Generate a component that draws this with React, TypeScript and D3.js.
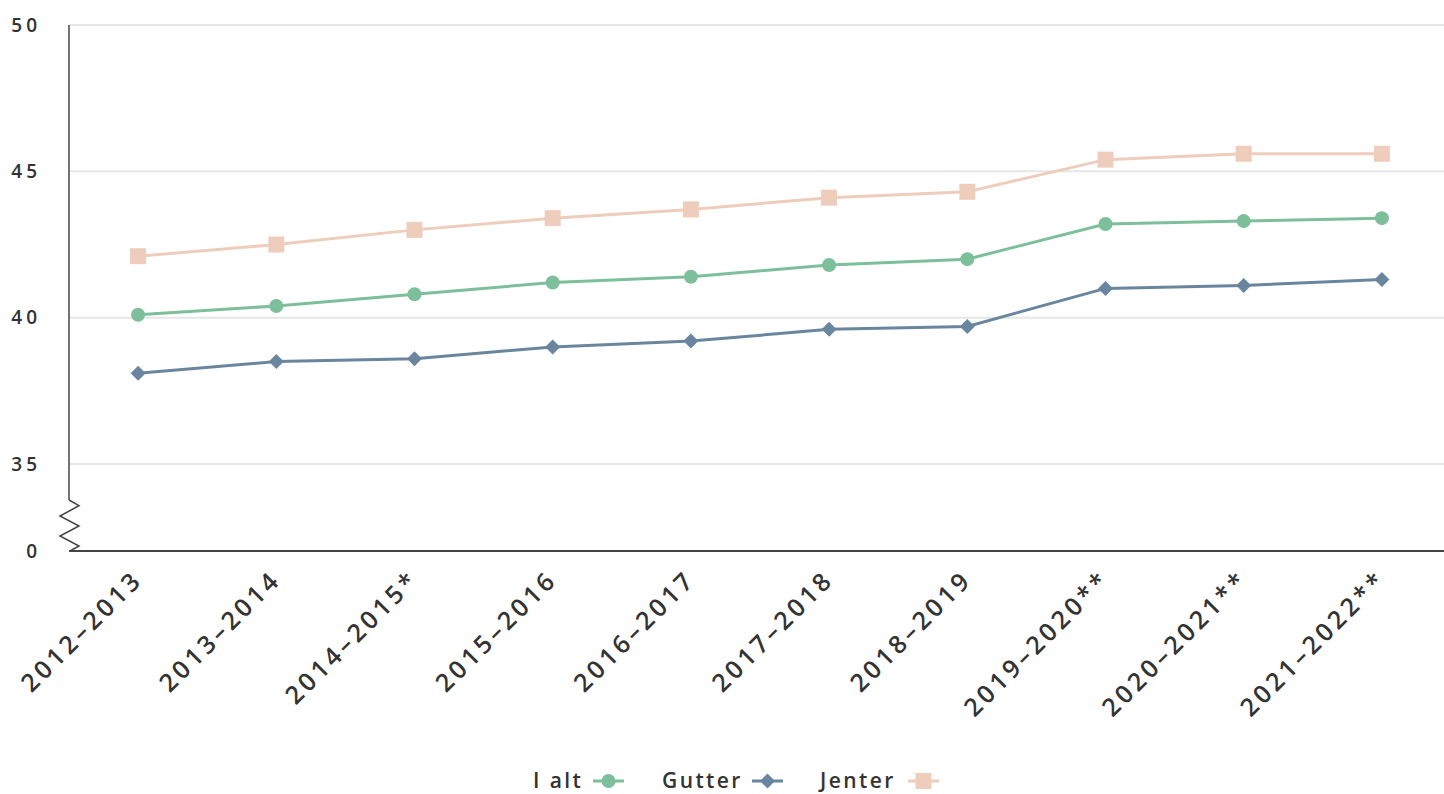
import React from "react";
import * as d3 from "d3";

const categories = ["2012–2013", "2013–2014", "2014–2015*", "2015–2016", "2016–2017", "2017–2018", "2018–2019", "2019–2020**", "2020–2021**", "2021–2022**"];
const iAlt = [40.1, 40.4, 40.8, 41.2, 41.4, 41.8, 42.0, 43.2, 43.3, 43.4];
const gutter = [38.1, 38.5, 38.6, 39.0, 39.2, 39.6, 39.7, 41.0, 41.1, 41.3];
const jenter = [42.1, 42.5, 43.0, 43.4, 43.7, 44.1, 44.3, 45.4, 45.6, 45.6];
const yTicks = [0, 35, 40, 45, 50];

const W = 1444, H = 794;
const left = 69, right = 1444, top = 25, bottom = 551;
const FONT = "'Open Sans', sans-serif";

export default function App() {
  const x = d3.scalePoint<string>().domain(categories).range([left, 1451]).padding(0.5);
  const y = d3.scaleLinear().domain([0, 35, 50]).range([bottom, 464, top]);
  const line = d3.line<number>().x((_, i) => x(categories[i])!).y((d) => y(d));

  const series = [
    { name: "I alt", data: iAlt, color: "#7dbf9b", marker: "circle" },
    { name: "Gutter", data: gutter, color: "#6a869e", marker: "diamond" },
    { name: "Jenter", data: jenter, color: "#eecdbd", marker: "square" },
  ];

  const marker = (m: string, cx: number, cy: number, color: string, key: any) => {
    if (m === "circle") return <circle key={key} cx={cx} cy={cy} r={7} fill={color} />;
    if (m === "diamond") return <path key={key} d={`M${cx},${cy - 7.5}L${cx + 7.5},${cy}L${cx},${cy + 7.5}L${cx - 7.5},${cy}Z`} fill={color} />;
    return <rect key={key} x={cx - 8} y={cy - 8} width={16} height={16} fill={color} />;
  };

  const zig = `M${left},500 L${left + 10},505.7 L${left - 9},516 L${left + 10},526 L${left - 9},536 L${left + 10},546 L${left + 1},${bottom}`;

  const legend = [
    { x: 533, sx: 593 },
    { x: 662, sx: 752 },
    { x: 820, sx: 908 },
  ];

  return (
    <svg width={W} height={H} style={{ position: "absolute", left: 0, top: 0, fontFamily: FONT }}>
      <rect width={W} height={H} fill="#fff" />
      {yTicks.filter((t) => t !== 0).map((t) => (
        <line key={t} x1={left} x2={right} y1={y(t)} y2={y(t)} stroke="#e6e6e6" strokeWidth={2} />
      ))}
      {yTicks.map((t) => (
        <text key={t} x={41} y={y(t)} dy="0.35em" textAnchor="end" fontSize={19} fontWeight={600} fill="#333" letterSpacing={4}>
          {t}
        </text>
      ))}
      <line x1={left} x2={left} y1={top} y2={500} stroke="#444" strokeWidth={1.5} />
      <path d={zig} fill="none" stroke="#444" strokeWidth={1.5} />
      <line x1={left} x2={right} y1={bottom} y2={bottom} stroke="#444" strokeWidth={2} />
      {categories.map((c) => (
        <text key={c} transform={`translate(${x(c)! + 6},${bottom + 30}) rotate(-45)`} textAnchor="end" fontSize={25} fontWeight={600} fill="#333" letterSpacing={3.6}>
          {c}
        </text>
      ))}
      {series.map((s) => (
        <g key={s.name}>
          <path d={line(s.data)!} fill="none" stroke={s.color} strokeWidth={3} />
          {s.data.map((v, i) => marker(s.marker, x(categories[i])!, y(v), s.color, i))}
        </g>
      ))}
      {series.map((s, i) => (
        <g key={s.name}>
          <text x={legend[i].x} y={781} dy="0.35em" fontSize={21} fontWeight={600} fill="#333" letterSpacing={2.4}>
            {s.name}
          </text>
          <line x1={legend[i].sx} x2={legend[i].sx + 31} y1={781} y2={781} stroke={s.color} strokeWidth={3} />
          {marker(s.marker, legend[i].sx + 15.5, 781, s.color, "m")}
        </g>
      ))}
    </svg>
  );
}
